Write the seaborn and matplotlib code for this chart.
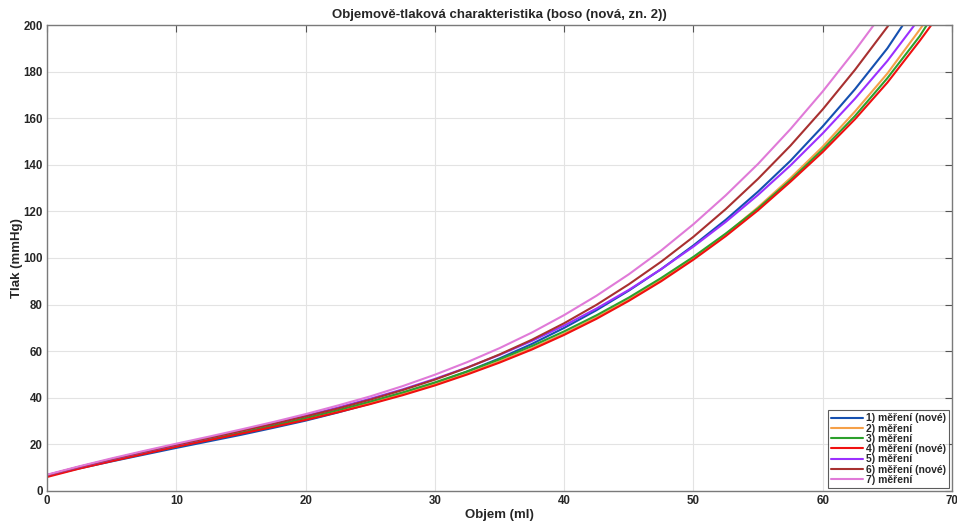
import matplotlib
matplotlib.use("Agg")
import matplotlib.pyplot as plt
import seaborn as sns
import pandas as pd

# Volume samples (ml) shared by all measurements
objem = [0, 2.5, 5, 7.5, 10, 12.5, 15, 17.5, 20, 22.5, 25, 27.5, 30, 32.5, 35,
         37.5, 40, 42.5, 45, 47.5, 50, 52.5, 55, 57.5, 60, 62.5, 65, 67.5]

# Pressure (mmHg) for each measurement; the pair after it is where the curve reaches 200 mmHg
mereni_1 = [6.5, 9.7, 12.7, 15.6, 18.5, 21.3, 24.1, 27.1, 30.2, 33.7, 37.5, 41.6, 46.2, 51.3,
            56.9, 63.1, 70.0, 77.6, 86.0, 95.2, 105.4, 116.4, 128.5, 141.7, 156.5, 172.5, 190.0]
konec_1 = (66.2, 200)
mereni_2 = [6.5, 10.0, 13.2, 16.3, 19.2, 22.1, 25.0, 27.9, 31.0, 34.3, 37.8, 41.6, 45.8, 50.4,
            55.6, 61.2, 67.5, 74.5, 82.1, 90.6, 99.9, 110.2, 121.8, 134.3, 147.8, 162.9, 179.2, 198.0]
konec_2 = (67.75, 200)
mereni_3 = [6.6, 10.0, 13.1, 16.2, 19.1, 22.1, 25.0, 28.1, 31.3, 34.7, 38.4, 42.3, 46.6, 51.3,
            56.5, 62.2, 68.5, 75.4, 83.0, 91.4, 100.5, 110.5, 121.3, 133.4, 146.6, 161.0, 177.2, 195.2]
konec_3 = (68.05, 200)
mereni_4 = [6.0, 9.6, 12.8, 15.9, 19.0, 21.8, 24.6, 27.5, 30.5, 33.8, 37.3, 41.1, 45.3, 50.0,
            55.1, 60.7, 67.0, 73.9, 81.6, 90.0, 99.3, 109.4, 120.5, 132.7, 145.5, 159.6, 175.3, 193.2]
konec_4 = (68.4, 200)
mereni_5 = [6.8, 10.3, 13.6, 16.8, 19.8, 22.8, 25.9, 29.0, 32.3, 35.8, 39.6, 43.6, 48.1, 53.0,
            58.4, 64.4, 71.0, 78.3, 86.3, 95.2, 104.9, 115.5, 127.1, 139.7, 153.5, 168.4, 184.6]
konec_5 = (67.1, 200)
mereni_6 = [6.8, 10.4, 13.7, 16.9, 19.9, 22.8, 25.8, 28.8, 32.0, 35.4, 39.2, 43.3, 47.8, 52.9,
            58.6, 64.9, 72.0, 79.9, 88.7, 98.4, 109.1, 121.0, 134.0, 148.2, 163.8, 180.8, 199.2]
konec_6 = (65.1, 200)
mereni_7 = [7.0, 10.6, 14.0, 17.2, 20.3, 23.3, 26.4, 29.6, 33.0, 36.7, 40.6, 45.0, 49.9, 55.3,
            61.3, 68.0, 75.5, 83.8, 93.0, 103.2, 114.5, 126.9, 140.4, 155.3, 171.5, 189.1]
konec_7 = (63.95, 200)

nazvy = ["1) měření (nové)", "2) měření", "3) měření", "4) měření (nové)",
         "5) měření", "6) měření (nové)", "7) měření"]
serie = [(mereni_1, konec_1), (mereni_2, konec_2), (mereni_3, konec_3),
         (mereni_4, konec_4), (mereni_5, konec_5), (mereni_6, konec_6),
         (mereni_7, konec_7)]
barvy = ["#1550b0", "#f5a048", "#2ca02c", "#f01010", "#9b30ff", "#a83030", "#e07ad8"]

x_ticks = [0, 10, 20, 30, 40, 50, 60, 70]
y_ticks = [0, 20, 40, 60, 80, 100, 120, 140, 160, 180, 200]

radky = []
for nazev, (tlak, konec) in zip(nazvy, serie):
    for v, p in zip(objem, tlak):
        if v < konec[0]:
            radky.append((nazev, v, p))
    radky.append((nazev, konec[0], konec[1]))
df = pd.DataFrame(radky, columns=["mereni", "Objem", "Tlak"])

sns.set_style("white")
plt.rcParams["font.family"] = ["Liberation Sans", "DejaVu Sans"]
plt.rcParams["font.weight"] = "bold"

fig = plt.figure(figsize=(9.57, 5.21), dpi=100)
ax = fig.add_axes([0.0491, 0.0576, 0.9457, 0.8944])

sns.lineplot(data=df, x="Objem", y="Tlak", hue="mereni", hue_order=nazvy,
             palette=barvy, estimator=None, sort=False, linewidth=1.5, ax=ax)

ax.set_xlim(0, 70)
ax.set_ylim(0, 200)
ax.set_xticks(x_ticks)
ax.set_yticks(y_ticks)
ax.grid(True, color="#e3e3e3", linewidth=0.8)
ax.set_axisbelow(True)
for s in ax.spines.values():
    s.set_color("#7a7a7a")
    s.set_linewidth(1.0)
    s.set_visible(True)
ax.tick_params(direction="in", length=5, width=0.8, color="#555555",
               top=True, right=True, labelsize=8.3, labelcolor="#262626", pad=3)
for lab in ax.get_xticklabels() + ax.get_yticklabels():
    lab.set_fontweight("bold")

ax.set_title("Objemově-tlaková charakteristika (boso (nová, zn. 2))",
             fontsize=9.5, fontweight="bold", pad=5)
ax.set_xlabel("Objem (ml)", fontsize=9.5, fontweight="bold", labelpad=1)
ax.set_ylabel("Tlak (mmHg)", fontsize=9.5, fontweight="bold", labelpad=0.5)

leg = ax.legend(loc="lower right", fontsize=7.5, frameon=True, fancybox=False,
                handlelength=3.0, handletextpad=0.3, labelspacing=0.02,
                borderpad=0.3, borderaxespad=0.3, title=None)
leg.get_frame().set_edgecolor("#333333")
leg.get_frame().set_linewidth(0.8)
for t in leg.get_texts():
    t.set_fontweight("bold")

fig.savefig("out.png", dpi=100)
